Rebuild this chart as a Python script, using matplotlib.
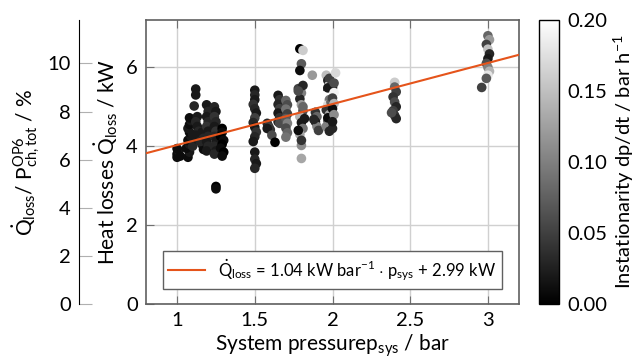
import numpy as np
import matplotlib
matplotlib.use('Agg')
import matplotlib.pyplot as plt

plt.rcParams['font.family'] = ['Lato', 'DejaVu Sans']
plt.rcParams['mathtext.fontset'] = 'custom'
plt.rcParams['mathtext.rm'] = 'Lato'
plt.rcParams['mathtext.it'] = 'Lato'
plt.rcParams['mathtext.bf'] = 'Lato'

# measured operating points: system pressure / bar, heat loss / kW, dp/dt / bar h^-1
p_sys = [
    1.00, 1.00, 1.01, 1.00, 1.02,
    1.07, 1.08, 1.06, 1.08, 1.07, 1.09, 1.08, 1.07, 1.08, 1.09, 1.08, 1.10, 1.10,
    1.12, 1.12, 1.11, 1.13, 1.12, 1.13, 1.14, 1.12, 1.13,
    1.16, 1.17, 1.16, 1.17, 1.15,
    1.19, 1.20, 1.19, 1.20, 1.19, 1.20, 1.20, 1.19, 1.20, 1.19,
    1.24, 1.25, 1.24, 1.25, 1.24, 1.25, 1.24, 1.25, 1.24, 1.25, 1.24, 1.25, 1.25,
    1.29, 1.29, 1.28, 1.30, 1.29, 1.28, 1.30, 1.29,
    1.50, 1.50, 1.50, 1.49, 1.50, 1.51, 1.50, 1.49, 1.50, 1.51, 1.50, 1.49, 1.50, 1.50, 1.51, 1.50,
    1.58, 1.59, 1.60, 1.58, 1.61, 1.63,
    1.65, 1.66, 1.65, 1.66, 1.65, 1.66, 1.65, 1.66,
    1.70, 1.71, 1.70, 1.71, 1.70, 1.71, 1.70, 1.71, 1.70,
    1.79, 1.81, 1.80, 1.79, 1.78, 1.80, 1.79, 1.80, 1.81, 1.79, 1.80, 1.81, 1.79, 1.80, 1.80, 1.87,
    1.81, 1.78, 1.82, 1.80, 1.78, 1.81,
    1.89, 1.90, 1.89, 1.90, 1.91, 1.88,
    1.96, 1.97, 1.98, 1.97, 1.96, 1.98, 1.97, 1.96, 1.98, 1.97, 1.96,
    1.98, 1.97, 1.99, 1.97, 1.98,
    2.00, 2.01, 2.00, 2.01, 2.00, 2.01, 2.00, 2.02, 2.01, 2.00,
    2.40, 2.40, 2.41, 2.39, 2.40, 2.41, 2.39, 2.40, 2.41, 2.38,
    3.00, 3.01, 2.99, 3.00, 3.01, 3.00, 2.99, 3.00, 3.01, 3.00, 2.99, 2.96,
]
q_loss = [
    3.72, 3.80, 3.88, 3.94, 3.75,
    3.72, 3.85, 3.95, 4.05, 4.15, 4.25, 4.35, 4.45, 4.55, 4.65, 4.72, 4.00, 4.30,
    5.45, 5.30, 5.02, 4.75, 4.62, 4.50, 4.38, 4.28, 4.18,
    4.35, 4.20, 4.05, 3.92, 4.12,
    5.05, 4.88, 4.75, 4.62, 4.50, 4.38, 4.25, 4.12, 4.00, 3.88,
    5.00, 4.88, 4.75, 4.62, 4.50, 4.38, 4.25, 4.12, 4.00, 3.88, 3.80, 2.98, 2.92,
    4.45, 4.35, 4.25, 4.15, 4.05, 3.95, 3.85, 3.75,
    5.42, 5.30, 5.18, 5.06, 4.95, 4.84, 4.72, 4.60, 4.48, 4.36, 4.24, 4.12, 3.85, 3.67, 3.56, 3.44,
    4.58, 4.50, 4.42, 4.45, 4.28, 4.10,
    5.29, 5.18, 5.06, 4.95, 4.84, 4.72, 4.62, 4.58,
    5.16, 5.05, 4.94, 4.82, 4.70, 4.58, 4.46, 4.34, 4.23,
    6.47, 6.43, 6.09, 5.92, 5.46, 5.35, 5.20, 5.05, 4.90, 4.75, 4.60, 4.45, 4.30, 4.02, 3.69, 5.80,
    5.54, 5.40, 4.70, 4.15, 4.40, 5.00,
    4.86, 4.75, 4.62, 4.50, 4.40, 4.68,
    5.80, 5.67, 5.55, 5.42, 5.30, 5.18, 5.05, 4.92, 4.80, 4.65, 4.50,
    5.72, 5.48, 5.12, 4.72, 4.38,
    5.49, 5.36, 5.22, 5.08, 4.95, 4.80, 4.45, 5.86, 5.60, 4.62,
    5.62, 5.50, 5.38, 5.25, 5.12, 5.00, 4.90, 4.78, 4.70, 4.85,
    6.80, 6.70, 6.58, 6.46, 6.34, 6.22, 6.10, 6.00, 5.90, 5.80, 5.72, 5.49,
]
dpdt = [
    0.01, 0.01, 0.02, 0.01, 0.01,
    0.01, 0.02, 0.01, 0.02, 0.01, 0.02, 0.01, 0.02, 0.01, 0.02, 0.01, 0.03, 0.02,
    0.02, 0.02, 0.03, 0.02, 0.03, 0.02, 0.03, 0.02, 0.02,
    0.02, 0.03, 0.02, 0.01, 0.03,
    0.02, 0.03, 0.02, 0.03, 0.04, 0.02, 0.03, 0.02, 0.03, 0.02,
    0.03, 0.02, 0.04, 0.03, 0.02, 0.04, 0.03, 0.02, 0.03, 0.02, 0.03, 0.00, 0.01,
    0.00, 0.01, 0.00, 0.01, 0.00, 0.01, 0.00, 0.01,
    0.02, 0.03, 0.02, 0.04, 0.03, 0.02, 0.05, 0.03, 0.02, 0.04, 0.03, 0.02, 0.02, 0.03, 0.02, 0.03,
    0.03, 0.05, 0.04, 0.02, 0.06, 0.00,
    0.02, 0.04, 0.03, 0.05, 0.02, 0.04, 0.03, 0.06,
    0.08, 0.06, 0.09, 0.05, 0.07, 0.10, 0.06, 0.08, 0.09,
    0.00, 0.16, 0.07, 0.01, 0.05, 0.10, 0.03, 0.12, 0.06, 0.14, 0.02, 0.09, 0.13, 0.11, 0.13, 0.12,
    0.03, 0.06, 0.02, 0.04, 0.01, 0.08,
    0.04, 0.08, 0.02, 0.10, 0.05, 0.03,
    0.15, 0.03, 0.18, 0.06, 0.20, 0.09, 0.17, 0.04, 0.13, 0.07, 0.10,
    0.05, 0.02, 0.08, 0.01, 0.03,
    0.02, 0.19, 0.05, 0.14, 0.01, 0.11, 0.03, 0.17, 0.06, 0.02,
    0.16, 0.08, 0.05, 0.04, 0.06, 0.03, 0.05, 0.04, 0.03, 0.06,
    0.08, 0.12, 0.05, 0.15, 0.03, 0.02, 0.06, 0.10, 0.14, 0.18, 0.07, 0.05,
]

slope, offset = 1.04, 2.99      # linear fit kW/bar, kW
p_ch_tot = 61.0                 # reference power OP6 / kW
x_fit = [0.8, 3.2]

fig = plt.figure(figsize=(6.4, 3.62), dpi=100)
ax = fig.add_axes([146 / 640, 58 / 362, 373 / 640, 284 / 362])
cax = fig.add_axes([539 / 640, 58 / 362, 20 / 640, 284 / 362])

ax.grid(True, color='#d0d0d0', lw=1.0, zorder=0)
sc = ax.scatter(p_sys, q_loss, c=dpdt, cmap='gray', vmin=0, vmax=0.2,
                s=48, edgecolors='none', zorder=2)
ax.plot(x_fit, [slope * x + offset for x in x_fit], color='#e5541b', lw=1.5, zorder=3,
        label=r'$\dot{\mathrm{Q}}_{\mathrm{loss}}$ = 1.04 kW bar$^{-1}$ $\cdot$ $\mathrm{p}_{\mathrm{sys}}$ + 2.99 kW')

ax.set_xlim(0.8, 3.2)
ax.set_ylim(0, 7.2)
ax.set_xticks([1, 1.5, 2, 2.5, 3])
ax.set_xticklabels(['1', '1.5', '2', '2.5', '3'])
ax.set_yticks([0, 2, 4, 6])
ax.tick_params(direction='in', top=True, right=True, length=6, color='#707070',
               labelsize=14.5, pad=6)
for s in ax.spines.values():
    s.set_color('#606060')
    s.set_linewidth(1.2)
ax.set_xlabel(r'System pressure$\mathrm{p}_{\mathrm{sys}}$ / bar', fontsize=15, labelpad=2)
ax.set_ylabel(r'Heat losses $\dot{\mathrm{Q}}_{\mathrm{loss}}$ / kW', fontsize=15, labelpad=4)

leg = ax.legend(loc='lower center', fontsize=12, fancybox=False, framealpha=1,
                edgecolor='#606060', handlelength=2.2, borderpad=0.35,
                bbox_to_anchor=(0.5, 0.025))
leg.get_frame().set_linewidth(1.0)

# relative losses on a second scale left of the main axis
ax2 = ax.twinx()
ax2.set_ylim(0, 7.2 / p_ch_tot * 100)
ax2.yaxis.set_ticks_position('left')
ax2.yaxis.set_label_position('left')
ax2.spines['left'].set_position(('outward', 67 * 72 / 100))
for k in ('right', 'top', 'bottom'):
    ax2.spines[k].set_visible(False)
ax2.spines['left'].set_color('black')
ax2.set_yticks([0, 2, 4, 6, 8, 10])
ax2.tick_params(direction='in', length=9, color='#b0b0b0', labelsize=14.5, pad=6)
ax2.set_ylabel(r'$\dot{\mathrm{Q}}_{\mathrm{loss}}$/ $\mathrm{P}^{\mathrm{OP6}}_{\mathrm{ch,tot}}$ / %',
               fontsize=15, labelpad=3)

cb = fig.colorbar(sc, cax=cax)
cb.set_ticks([0, 0.05, 0.1, 0.15, 0.2])
cb.set_ticklabels(['0.00', '0.05', '0.10', '0.15', '0.20'])
cb.ax.tick_params(labelsize=14.5, length=0, pad=6)
cb.outline.set_linewidth(1.0)
cb.set_label(r'Instationarity dp/dt / bar h$^{-1}$', fontsize=14.5, labelpad=3)

fig.savefig('out.png', dpi=100)
